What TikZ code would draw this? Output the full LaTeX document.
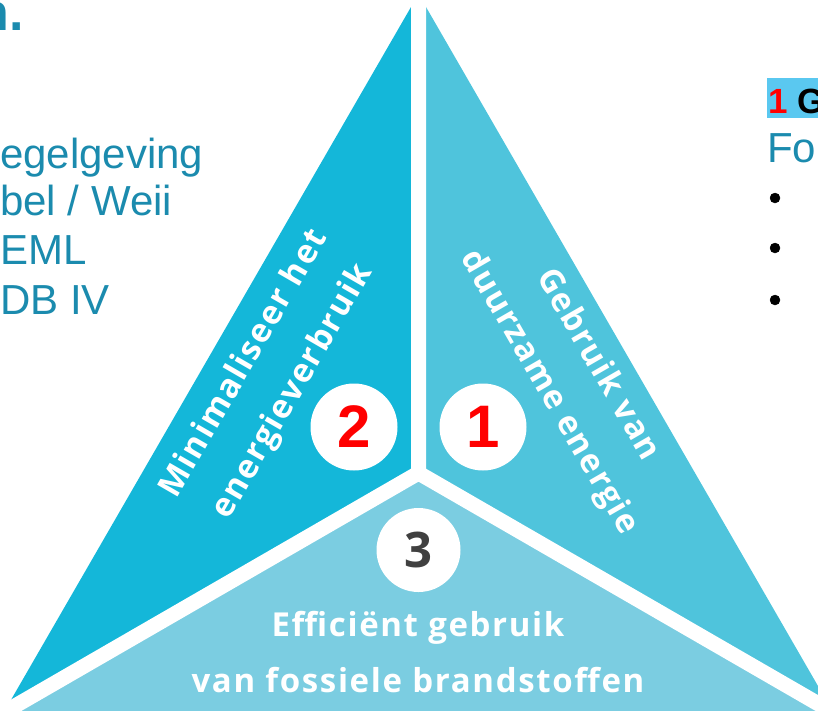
\documentclass[tikz,border=0pt]{standalone}
\usepackage{fontspec}
\setmainfont{Liberation Sans}
\newfontfamily\opensans{Open Sans}
\newfontfamily\opensanswide[LetterSpace=5]{Open Sans}
\usepackage{tikz}
\usetikzlibrary{calc}

\definecolor{trione}{RGB}{79,196,220}
\definecolor{tritwo}{RGB}{20,183,217}
\definecolor{trithree}{RGB}{123,205,225}
\definecolor{sidecol}{RGB}{27,139,174}
\definecolor{markcol}{RGB}{90,200,240}
\definecolor{darknum}{RGB}{64,64,64}

\begin{document}
\begin{tikzpicture}[x=1pt,y=-1pt,
    numcircle/.style={circle,fill=white,inner sep=0pt,minimum size=87pt},
    slogan/.style={text=white,align=center,inner sep=0pt,
        font=\opensanswide\bfseries\fontsize{33}{56}\selectfont},
    sidetext/.style={text=sidecol,anchor=base west,inner sep=0pt,
        font=\fontsize{42}{42}\selectfont},
    gapline/.style={white,line width=15pt}]
                \useasboundingbox (0,0) rectangle (818,710);
                \clip (0,0) rectangle (818,710);

                \coordinate (A) at (418.5,-6);
                \coordinate (BL) at (3.7,712.5);
                \coordinate (BR) at (833.3,712.5);
                \coordinate (C) at (418.5,473);

                \fill[tritwo] (A) -- (BL) -- (C) -- cycle;
                \fill[trione] (A) -- (C) -- (BR) -- cycle;
                \fill[trithree] (BL) -- (BR) -- (C) -- cycle;
                \draw[gapline] (C) -- (A) (C) -- (BL) (C) -- (BR);

                \node[numcircle,text=red,font=\bfseries\fontsize{60}{60}\selectfont] (two) at (354,427) {2};
                \node[numcircle,text=red,font=\bfseries\fontsize{60}{60}\selectfont] (one) at (483,427) {1};
                \node[numcircle,minimum size=84pt,text=darknum,font=\opensans\bfseries\fontsize{49}{49}\selectfont] (three) at (418.5,550) {3};

                \node[slogan,rotate=60] (minimise) at (269,378) {Minimaliseer het\\energieverbruik};
                \node[slogan,rotate=-60] (renewable) at (573,379) {Gebruik van\\duurzame energie};
                \node[slogan] (fossil) at (418,652) {Efficiënt gebruik\\van fossiele brandstoffen};

                \node[anchor=base east,inner sep=0pt,text=sidecol,font=\bfseries\fontsize{52}{52}\selectfont] (title) at (24,30) {n.};
                \node[sidetext] (rule1) at (0,168) {egelgeving};
                \node[sidetext] (rule2) at (0,215) {bel / Weii};
                \node[sidetext] (rule3) at (0,264) {EML};
                \node[sidetext] (rule4) at (0,314) {DB IV};

                \fill[markcol] (767,78) rectangle (818,118);
                \node[anchor=base west,inner sep=0pt,font=\bfseries\fontsize{35}{35}\selectfont] (head) at (768,113) {\textcolor{red}{1} G};
                \node[sidetext] (fo) at (767,162) {Fo};
                \foreach \y in {198,248,300}
                    \filldraw[black] (775,\y) circle (5);
            \end{tikzpicture}
\end{document}
